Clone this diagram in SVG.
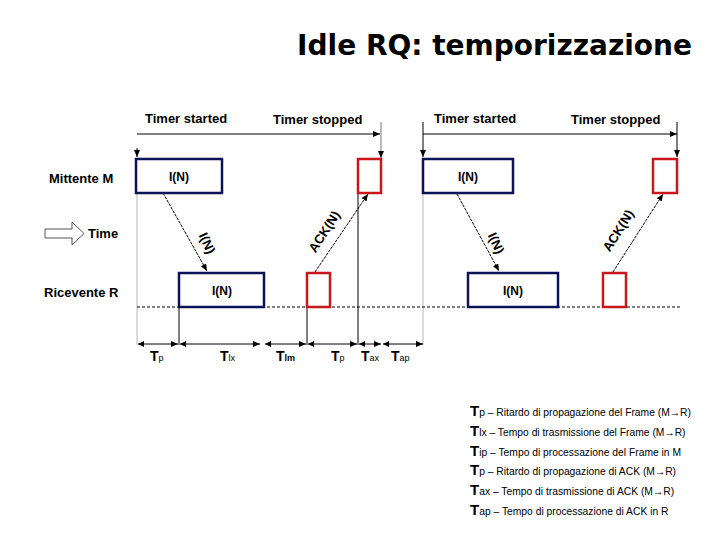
<svg xmlns="http://www.w3.org/2000/svg" width="720" height="540" viewBox="0 0 720 540">
<defs>
<marker id="ah" markerWidth="7" markerHeight="6" refX="7" refY="3" orient="auto" markerUnits="userSpaceOnUse"><path d="M0,0 L7,3 L0,6 z" fill="#000"/></marker>
<marker id="as" markerWidth="6" markerHeight="6" refX="0" refY="3" orient="auto" markerUnits="userSpaceOnUse"><path d="M6,0 L0,3 L6,6 z" fill="#000"/></marker>
<style>
.lbl{font-family:"Liberation Sans",Arial,sans-serif;font-weight:bold;font-size:13px;fill:#000}
.box{fill:#fff;stroke:#0d1257;stroke-width:2.5}
.red{fill:#fff;stroke:#c8171d;stroke-width:2.5}
.bt{font-family:"Liberation Sans",Arial,sans-serif;font-weight:bold;font-size:12px;text-anchor:middle}
.rot{font-family:"Liberation Sans",Arial,sans-serif;font-weight:bold;font-size:13px;text-anchor:middle}
.T{font-family:"Liberation Sans",Arial,sans-serif;font-weight:bold;font-size:14px}
.sub{font-family:"Liberation Sans",Arial,sans-serif;font-size:9px}
.TL{font-family:"Liberation Sans",Arial,sans-serif;font-weight:bold;font-size:15px}
.leg{font-family:"Liberation Sans",Arial,sans-serif;font-size:10.3px}
.ln{stroke:#000;stroke-width:1;fill:none}
.gray{stroke:#b8b8b8;stroke-width:1;fill:none}
.msg{stroke:#000;stroke-width:1;fill:none;stroke-dasharray:3 1}
</style>
</defs>
<rect width="720" height="540" fill="#fff"/>
<text x="692" y="55" text-anchor="end" font-family="DejaVu Sans, Verdana, sans-serif" font-weight="bold" font-size="28">Idle RQ: temporizzazione</text>

<g id="labels-left">
<text class="lbl" x="49" y="183">Mittente M</text>
<path d="M45,229 H72 V222 L84,233.5 L72,245 V238 H45 z" fill="#fff" stroke="#555" stroke-width="1"/>
<text class="lbl" x="88" y="238">Time</text>
<text class="lbl" x="44" y="297">Ricevente R</text>
</g>

<g id="timer1">
<text class="lbl" x="145" y="123">Timer started</text>
<text class="lbl" x="273" y="124">Timer stopped</text>
</g>
<g id="timer2">
<text class="lbl" x="434" y="123">Timer started</text>
<text class="lbl" x="571" y="124">Timer stopped</text>
</g>

<g id="connectors">
<line class="ln" x1="137" y1="134" x2="380" y2="134" marker-end="url(#ah)"/>
<line class="ln" x1="137" y1="148" x2="137" y2="157" marker-end="url(#ah)"/>
<line stroke="#777" stroke-width="1" x1="381" y1="122" x2="381" y2="158" marker-end="url(#ah)"/>
<line class="ln" x1="423" y1="122" x2="423" y2="157" marker-end="url(#ah)"/>
<line class="ln" x1="423" y1="134" x2="677" y2="134" marker-end="url(#ah)"/>
<line class="ln" x1="677" y1="122" x2="677" y2="157" marker-end="url(#ah)"/>

<line class="gray" x1="137" y1="194" x2="137" y2="345"/>
<line class="gray" x1="423" y1="194" x2="423" y2="345"/>
<line stroke="#000" stroke-width="1" stroke-dasharray="3 2" x1="137" y1="307" x2="680" y2="307"/>
<line class="ln" x1="179" y1="307" x2="179" y2="345"/>
<line class="ln" x1="307" y1="307" x2="307" y2="345"/>
<line class="ln" x1="358" y1="194" x2="358" y2="345"/>

<line class="msg" x1="163" y1="193" x2="207" y2="271" marker-end="url(#ah)"/>
<line class="msg" x1="315" y1="272" x2="368" y2="194" marker-end="url(#ah)"/>
<line class="msg" x1="457" y1="194" x2="499" y2="271" marker-end="url(#ah)"/>
<line class="msg" x1="613" y1="272" x2="663" y2="194" marker-end="url(#ah)"/>

<g>
<line class="ln" x1="138" y1="344" x2="178" y2="344" marker-start="url(#as)" marker-end="url(#ah)"/>
<line class="ln" x1="180" y1="344" x2="260" y2="344" marker-start="url(#as)" marker-end="url(#ah)"/>
<line class="ln" x1="265" y1="344" x2="306" y2="344" marker-start="url(#as)" marker-end="url(#ah)"/>
<line class="ln" x1="308" y1="344" x2="357" y2="344" marker-start="url(#as)" marker-end="url(#ah)"/>
<line class="ln" x1="359" y1="344" x2="381" y2="344" marker-start="url(#as)" marker-end="url(#ah)"/>
<line class="ln" x1="383" y1="344" x2="423" y2="344" marker-start="url(#as)" marker-end="url(#ah)"/>
</g>
</g>

<g id="M-frame1"><rect class="box" x="136" y="159" width="86" height="34"/><text class="bt" x="179" y="181">I(N)</text></g>
<g id="M-ack1"><rect class="red" x="358" y="159" width="23" height="34"/></g>
<g id="M-frame2"><rect class="box" x="423" y="159" width="90" height="34"/><text class="bt" x="468" y="181">I(N)</text></g>
<g id="M-ack2"><rect class="red" x="653" y="159" width="24" height="34"/></g>
<g id="R-frame1"><rect class="box" x="179" y="273" width="85" height="34"/><text class="bt" x="222" y="295">I(N)</text></g>
<g id="R-ack1"><rect class="red" x="307" y="273" width="23" height="34"/></g>
<g id="R-frame2"><rect class="box" x="468" y="273" width="90" height="34"/><text class="bt" x="513" y="295">I(N)</text></g>
<g id="R-ack2"><rect class="red" x="603" y="273" width="23" height="34"/></g>

<g id="msg-labels">
<text class="rot" transform="translate(203,245) rotate(65)">I(N)</text>
<text class="rot" transform="translate(328,234) rotate(-57)">ACK(N)</text>
<text class="rot" transform="translate(492,245) rotate(65)">I(N)</text>
<text class="rot" transform="translate(622,233) rotate(-58)">ACK(N)</text>
</g>

<g id="timeline-labels">
<text x="150" y="361"><tspan class="T">T</tspan><tspan class="sub">p</tspan></text>
<text x="220" y="361"><tspan class="T">T</tspan><tspan class="sub">lx</tspan></text>
<text x="276" y="361"><tspan class="T">T</tspan><tspan class="sub" font-weight="bold">lm</tspan></text>
<text x="331" y="361"><tspan class="T">T</tspan><tspan class="sub">p</tspan></text>
<text x="361" y="361"><tspan class="T">T</tspan><tspan class="sub">ax</tspan></text>
<text x="391" y="361"><tspan class="T">T</tspan><tspan class="sub">ap</tspan></text>
</g>

<g id="legend">
<text x="470" y="416"><tspan class="TL">T</tspan><tspan class="leg">p  – Ritardo di propagazione del Frame (M→R)</tspan></text>
<text x="470" y="436"><tspan class="TL">T</tspan><tspan class="leg">lx – Tempo di trasmissione del Frame (M→R)</tspan></text>
<text x="470" y="456"><tspan class="TL">T</tspan><tspan class="leg">ip – Tempo di processazione del Frame in M</tspan></text>
<text x="470" y="475"><tspan class="TL">T</tspan><tspan class="leg">p  – Ritardo di propagazione di ACK (M→R)</tspan></text>
<text x="470" y="495"><tspan class="TL">T</tspan><tspan class="leg">ax – Tempo di trasmissione di ACK (M→R)</tspan></text>
<text x="470" y="515"><tspan class="TL">T</tspan><tspan class="leg">ap – Tempo di processazione di ACK in R</tspan></text>
</g>
</svg>
